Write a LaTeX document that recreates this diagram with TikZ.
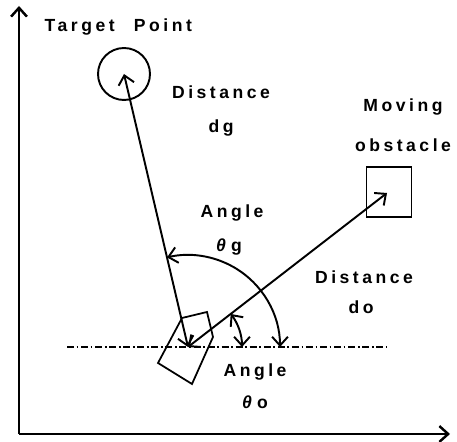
\documentclass[tikz,border=0pt]{standalone}
\usepackage{fontspec}
\setmainfont{Liberation Sans}[LetterSpace=20]
\usepackage{tikz}
\usetikzlibrary{arrows.meta, positioning, calc}

\begin{document}
\begin{tikzpicture}[x=0.02cm, y=0.02cm, line width=1.1pt,
  >={Straight Barb[length=5pt, width=9pt]},
  lbl/.style={font=\fontsize{10}{12}\selectfont\bfseries, inner sep=1pt}]

\useasboundingbox (0,0) rectangle (457,442);

% Axes
\coordinate (orig) at (19,8);
\coordinate (ytip) at (19,436);
\coordinate (xtip) at (450,8);
\draw[->, line width=1.4pt] (orig) -- (ytip);
\draw[->, line width=1.4pt] (orig) -- (xtip);

% Nodes
\node[draw, circle, minimum size=1.04cm, inner sep=0pt] (target) at (124,368) {};
\node[draw, minimum width=0.9cm, minimum height=1cm, inner sep=0pt] (obst) at (389,250) {};
\coordinate (robot) at (188,95);

% Robot body and reference line
\draw[line width=1pt] (182,124) -- (207,130) -- (213,105) -- (192,58) -- (158,79) -- cycle;
\coordinate (hl) at (67,95);
\coordinate (hr) at (387,95);
\draw[line width=0.9pt, dash pattern=on 4pt off 1.5pt on 1pt off 1.5pt] (hl) -- (hr);

% Distance arrows
\draw[<->] (robot) -- (target.center);
\draw[<->] (robot) -- ($(obst.center)+(-2,-1)$);

% Angle arcs
\draw[<->] ($(robot)+(92,0)$) arc[start angle=0, end angle=103.2, radius=92];
\draw[<->] ($(robot)+(54,0)$) arc[start angle=0, end angle=37.7, radius=54];

% Labels
\node[lbl, anchor=west] (ttarget) at (42,415) {Target\hspace{11pt}Point};
\node[lbl] (tdg) at (221,350) {Distance};
\node[lbl] (tdg2) at (221,314) {dg};
\node[lbl] (tmov) at (403,335) {Moving};
\node[lbl] (tmov2) at (403,297) {obstacle};
\node[lbl] (tang) at (232,229) {Angle};
\node[lbl] (tang2) at (229,195) {{\itshape θ}\hspace{3pt}g};
\node[lbl] (tdo) at (364,165) {Distance};
\node[lbl] (tdo2) at (361,135) {do};
\node[lbl] (tango) at (255,70) {Angle};
\node[lbl] (tango2) at (255,40) {{\itshape θ}\hspace{3pt}o};

\end{tikzpicture}
\end{document}
